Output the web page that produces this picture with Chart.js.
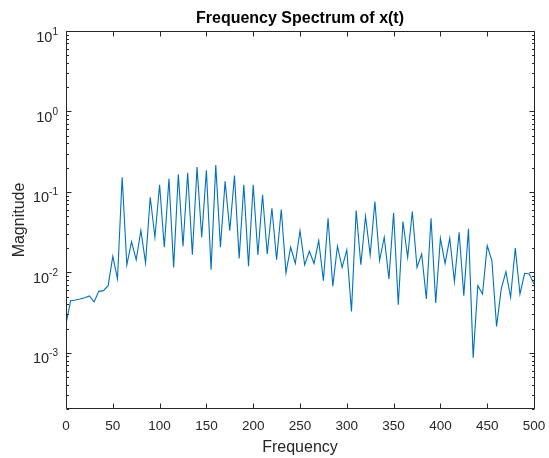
<!DOCTYPE html>
<html><head><meta charset="utf-8">
<style>html,body{margin:0;padding:0;background:#fff;}canvas{display:block;}</style>
<script src="https://cdn.jsdelivr.net/npm/chart.js@4.4.1/dist/chart.umd.min.js"></script>
</head><body>
<canvas id="c" width="549" height="458"></canvas>
<script>
const frequency = [0,5,10,15,20,25,30,35,40,45,50,55,60,65,70,75,80,85,90,95,
  100,105,110,115,120,125,130,135,140,145,150,155,160,165,170,175,180,185,190,195,
  200,205,210,215,220,225,230,235,240,245,250,255,260,265,270,275,280,285,290,295,
  300,305,310,315,320,325,330,335,340,345,350,355,360,365,370,375,380,385,390,395,
  400,405,410,415,420,425,430,435,440,445,450,455,460,465,470,475,480,485,490,495,500];
const magnitude = [0.00228,0.00444,0.00453,0.00466,0.00484,0.00508,0.00428,0.00580,0.00592,0.00683,
  0.0158,0.00828,0.152,0.0124,0.0241,0.0143,0.0331,0.0131,0.0859,0.0273,
  0.1225,0.0205,0.1456,0.0115,0.165,0.0211,0.173,0.0165,0.203,0.0273,
  0.185,0.0108,0.215,0.0205,0.135,0.033,0.16,0.0149,0.1225,0.0119,
  0.1225,0.0165,0.092,0.0169,0.0627,0.0144,0.0604,0.00984,0.0205,0.0129,
  0.033,0.0124,0.0183,0.0129,0.0248,0.00788,0.047,0.0067,0.0211,0.0115,
  0.019,0.00327,0.0587,0.0124,0.0498,0.0165,0.0759,0.014,0.0273,0.00828,
  0.055,0.00396,0.0428,0.0154,0.057,0.0115,0.0169,0.00466,0.047,0.00416,
  0.0265,0.0129,0.0265,0.00766,0.0315,0.00513,0.0347,0.00087,0.00683,0.00538,
  0.0215,0.014,0.00213,0.00621,0.0102,0.00489,0.0201,0.00538,0.00972,0.00955,0.00717];
const xTickValues = [0,50,100,150,200,250,300,350,400,450,500];
const yDecadeValues = [0.001,0.01,0.1,1,10];
const yDecadeExponents = ['-3','-2','-1','0','1'];
const yMinorValues = [0.0002,0.0003,0.0004,0.0005,0.0006,0.0007,0.0008,0.0009,
  0.002,0.003,0.004,0.005,0.006,0.007,0.008,0.009,
  0.02,0.03,0.04,0.05,0.06,0.07,0.08,0.09,
  0.2,0.3,0.4,0.5,0.6,0.7,0.8,0.9,
  2,3,4,5,6,7,8,9];
const titleText = 'Frequency Spectrum of x(t)';
const xLabel = 'Frequency';
const yLabel = 'Magnitude';

const points = frequency.map((f, i) => ({x: f, y: magnitude[i]}));
const FONT = '"Liberation Sans", Arial, Helvetica, sans-serif';
const AX = '#262626';

const axesPlugin = {
  id: 'matlabAxes',
  afterDraw(chart) {
    const ctx = chart.ctx, a = chart.chartArea;
    const xs = chart.scales.x, ys = chart.scales.y;
    const L = Math.floor(a.left) + 0.5, R = Math.floor(a.right) + 0.5;
    const T = Math.floor(a.top) + 0.5, B = Math.floor(a.bottom) - 0.5;
    ctx.save();
    ctx.strokeStyle = AX; ctx.lineWidth = 1;
    ctx.beginPath();
    ctx.rect(L, T, R - L, B - T);
    xTickValues.forEach(v => {
      const px = Math.round(xs.getPixelForValue(v)) + 0.5;
      ctx.moveTo(px, B); ctx.lineTo(px, B - 5);
      ctx.moveTo(px, T); ctx.lineTo(px, T + 5);
    });
    yDecadeValues.forEach(v => {
      const py = Math.round(ys.getPixelForValue(v)) + 0.5;
      ctx.moveTo(L, py); ctx.lineTo(L + 5, py);
      ctx.moveTo(R, py); ctx.lineTo(R - 5, py);
    });
    yMinorValues.forEach(v => {
      const py = Math.round(ys.getPixelForValue(v)) + 0.5;
      ctx.moveTo(L, py); ctx.lineTo(L + 2.5, py);
      ctx.moveTo(R, py); ctx.lineTo(R - 2.5, py);
    });
    ctx.stroke();

    ctx.fillStyle = AX;
    ctx.font = '13.5px ' + FONT;
    ctx.textAlign = 'center'; ctx.textBaseline = 'alphabetic';
    xTickValues.forEach(v => {
      ctx.fillText(String(v), xs.getPixelForValue(v), 430);
    });
    yDecadeValues.forEach((v, i) => {
      const py = ys.getPixelForValue(v);
      const e = yDecadeExponents[i];
      ctx.font = '10px ' + FONT;
      const ew = ctx.measureText(e).width;
      ctx.textAlign = 'left';
      ctx.fillText(e, 58 - ew, py + 3.5);
      ctx.font = '14.5px ' + FONT;
      ctx.textAlign = 'right';
      ctx.fillText('10', 58 - ew, py + 10.5);
    });
    ctx.font = '16px ' + FONT;
    ctx.textAlign = 'center';
    ctx.fillText(xLabel, (a.left + a.right) / 2, 452);
    ctx.save();
    ctx.translate(24, (a.top + a.bottom) / 2);
    ctx.rotate(-Math.PI / 2);
    ctx.fillText(yLabel, 0, 0);
    ctx.restore();
    ctx.fillStyle = '#000';
    ctx.font = 'bold 16px ' + FONT;
    ctx.fillText(titleText, (a.left + a.right) / 2, 23);
    ctx.restore();
  }
};

new Chart(document.getElementById('c'), {
  type: 'line',
  data: {
    datasets: [{
      data: points,
      borderColor: '#0072BD',
      borderWidth: 1.1,
      pointRadius: 0,
      tension: 0,
      fill: false
    }]
  },
  options: {
    responsive: false,
    animation: false,
    layout: { padding: { left: 66, right: 15, top: 31, bottom: 49 } },
    plugins: { legend: { display: false }, tooltip: { enabled: false }, title: { display: false } },
    scales: {
      x: { type: 'linear', min: 0, max: 500, display: false },
      y: { type: 'logarithmic', min: 0.0002, max: 10, display: false }
    }
  },
  plugins: [axesPlugin]
});
</script>
</body></html>
